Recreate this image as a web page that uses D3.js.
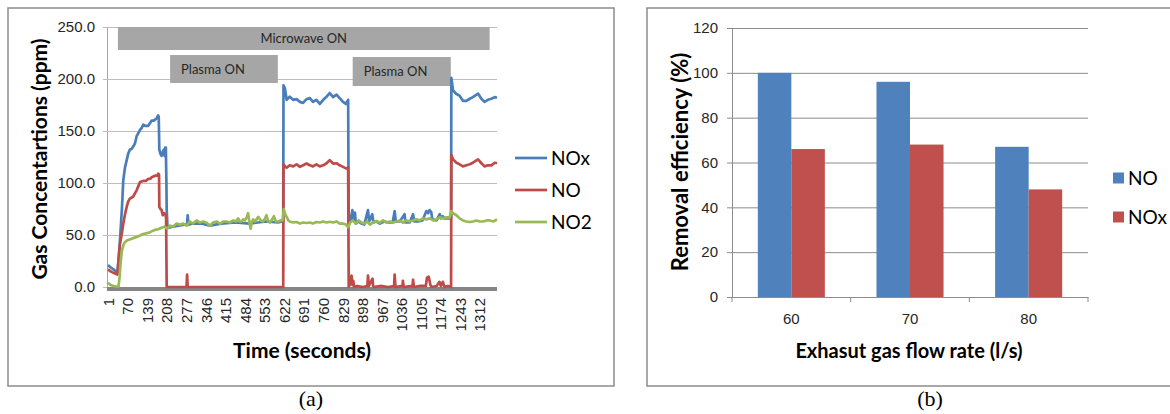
<!DOCTYPE html>
<html>
<head>
<meta charset="utf-8">
<script src="https://cdn.jsdelivr.net/npm/d3@7"></script>
<style>
body { margin: 0; background: #fff; }
svg { display: block; font-family: Lato, "Open Sans", sans-serif; }
</style>
</head>
<body>
<svg id="chart" width="1170" height="414"></svg>
<script>
// ---- panel (a): gas concentrations over time ----
const timeTicks = [1, 70, 139, 208, 277, 346, 415, 484, 553, 622, 691, 760, 829, 898, 967, 1036, 1105, 1174, 1243, 1312];
const concTicks = [0, 50, 100, 150, 200, 250];

const noxTime = [1,10,20,34,38,43,50,55,61,67, 72,78,85,90,96,102,108,114,120,125,
  133,143,150,155,162,167,172,178,180,182, 186,190,194,198,201,203,205,207,208,211,
  215,230,250,270,280,282,285,300,330,360, 400,450,500,560,600,617,619,620,625,631,
  642,654,666,678,689,701,713,724,736,748, 760,772,783,795,807,818,830,840,848,850,
  855,863,866,872,875,885,895,905,918,922, 933,937,948,960,975,990,1005,1012,1016,1030,
  1047,1050,1065,1077,1081,1095,1110,1124,1130,1135, 1141,1145,1160,1171,1175,1182,1188,1200,1208,1211,
  1212,1218,1230,1241,1253,1265,1277,1288,1306,1318, 1329,1341,1353,1365,1373];
const noxPpm = [21,19,17,13.6,25,44,75,103,115,122, 128,132,133,135,138,145,148,151,153,156,
  155,155,158,160,160,161,162,165,163,132, 128,126,130,132,126,134,134,100,74,57,
  57,58,59,60,60,69,60,61,61,59, 61,62,61,63,62,63,63,194,191,180,
  183,180,180.6,178,177,180.6,181.6,178,180,176, 180,183,186.5,182.6,185,181.6,178,176,180,62,
  62,74,64,71.6,61,63,61,60,74,63, 70,62,63,61,63,62,62,73,63,63,
  70,62,62,70,63,63,64,73,71,74, 72,65,64,70,66,68,66,66,66,67,
  201,189,185.6,184,179,179,181,182.6,186,181, 178,180,181,182.6,182];

const noTime = [1,10,20,34,38,43,50,55,61,67, 72,78,90,96,102,108,114,125,135,143,
  150,155,167,175,178,181,182,186,190,194, 198,204,206,208,278,280,282,619,620,625,
  631,642,654,666,678,689,701,713,724,736, 748,760,772,783,795,807,818,830,840,848,
  850,855,860,863,866,869,880,900,916,918, 921,934,936,939,960,990,1010,1012,1015,1040,
  1041,1044,1075,1077,1080,1100,1122,1126,1132,1138, 1142,1160,1170,1175,1182,1188,1200,1211,1212,1218,
  1230,1241,1253,1265,1277,1288,1306,1318,1329,1341, 1353,1365,1373];
const noPpm = [17,15,13.6,12,25,41,52,61,70,77, 82,85,87,90,93,97,101,102,102,104,
  104,105.5,107,107,109,108,77,75,74,69, 71,70,65,0,0,12,0,0,118,116,
  114.6,117,116,118,115.5,117,118.7,117,116,118, 116,117,119,122,118.7,119,117,115.5,114,115,
  0,3,11,2,6,0,1,0,1,11, 1,8,1,0,1,0,1,12,0,1,
  6,0,1,7,0,1,1,9,10,2, 0,1,5,1,5,0,1,0,127,122.7,
  119.5,118,116,117,118,119.5,122.7,119,116,117, 117,119.5,119];

const no2Time = [1,10,20,30,38,42,46,50,55,60, 70,80,90,102,114,125,135,143,155,167,
  178,190,200,210,219,230,243,255,266,278, 290,300,314,325,337,349,360,372,384,396,
  408,419,431,443,452,460,466,472,478,484, 490,495,500,504,508,513,520,531,540,548,
  555,560,566,572,580,586,593,601,610,617, 621,626,631,637,642,654,666,678,689,701,
  713,724,736,748,760,772,783,795,807,818, 830,840,848,855,865,875,885,895,905,915,
  925,935,948,960,971,983,995,1006,1018,1030, 1041,1053,1065,1077,1089,1100,1112,1124,1136,1148,
  1160,1171,1183,1195,1206,1212,1218,1230,1241,1253, 1265,1277,1288,1300,1312,1324,1336,1348,1360,1373];
const no2Ppm = [4,2,1,0.5,0.5,10,25,35,40,43, 45,46,47,48,49.5,51,51.5,52,53.5,55,
  55.5,57,58,56,59,58,61,60,61,59, 63,61,64,62,63,61.7,59,62,63,61,
  63,63,62,64,63,66,63,63,65,64, 67,71,62,56,62,65,63,67.5,64,63,
  66,69,63,62,65,68,63,63,64,64, 75,70,67.5,64,63,62,62.5,61,62,61.5,
  62,61,62.5,62,63,62,62.7,62,63,61, 61,60,57.5,62,64,61,64,62,61,63,
  60,62,63.5,62,64,62,63,62,63,64, 62,64,63,64,65,64,66,65,66,64,
  65,67,66,67,67,73,71,69,66,64, 63,62.5,63,64,63,63,64,64,63,65];

const periodLabels = ["Microwave ON", "Plasma ON", "Plasma ON"];
const periodStart = [36, 220, 864];
const periodEnd = [1347, 600, 1210];

// ---- panel (b): removal efficiency ----
const flowRates = ["60", "70", "80"];
const gasNames = ["NO", "NOx"];
const removalNO = [100, 96, 67];
const removalNOx = [66, 68, 48];
const effTicks = [0, 20, 40, 60, 80, 100, 120];

const svg = d3.select("#chart");

function drawTimeChart()
{
    var x = d3.scaleLinear().domain([1, 1373]).range([108, 497]);
    var y = d3.scaleLinear().domain([0, 250]).range([287, 27]);

    svg.append("rect").attr("x", 8).attr("y", 8).attr("width", 606).attr("height", 378)
        .attr("fill", "none").attr("stroke", "#8c8c8c").attr("stroke-width", 1.5);

    // grid + y labels
    var gy = svg.append("g").attr("transform", "translate(107,0)")
        .call(d3.axisLeft(y).tickValues(concTicks).tickFormat(d3.format(".1f"))
            .tickSize(-390).tickPadding(12));
    gy.select(".domain").attr("stroke", "#a6a6a6");
    gy.selectAll(".tick line").attr("x1", -4).attr("stroke", "#bdbdbd");
    gy.selectAll("text").attr("font-size", 15).attr("fill", "#262626");

    // x axis: thick grey base + rotated labels
    var gx = svg.append("g").attr("transform", "translate(0,289)")
        .call(d3.axisBottom(x).tickValues(timeTicks).tickFormat(d3.format("d")).tickSize(0).tickSizeOuter(0));
    gx.select(".domain").attr("d", "M107,0H497").attr("stroke", "#858585").attr("stroke-width", 4);
    gx.selectAll("text").attr("transform", "rotate(-90)").attr("x", -9).attr("y", 0)
        .attr("dy", "0.35em").attr("text-anchor", "end").attr("font-size", 15).attr("fill", "#262626");

    // ON periods
    var boxRows = [[27, 50], [55, 83], [57, 86]];
    periodLabels.forEach(function(label, i) {
        var x0 = x(periodStart[i]), x1 = x(periodEnd[i]);
        svg.append("rect").attr("x", x0).attr("y", boxRows[i][0]).attr("width", x1 - x0)
            .attr("height", boxRows[i][1] - boxRows[i][0]).attr("fill", "#a6a6a6");
        svg.append("text").attr("x", i == 0 ? (x0 + x1) / 2 : x0 + 11)
            .attr("y", (boxRows[i][0] + boxRows[i][1]) / 2).attr("dy", "0.35em")
            .attr("text-anchor", i == 0 ? "middle" : "start")
            .attr("font-size", 13).attr("fill", "#262626").text(label);
    });

    var line = d3.line().x(d => x(d[0])).y(d => y(d[1]));
    var series = [
        {name: "NOx", color: "#4a7ebb", data: d3.zip(noxTime, noxPpm)},
        {name: "NO", color: "#be4b48", data: d3.zip(noTime, noPpm)},
        {name: "NO2", color: "#98b954", data: d3.zip(no2Time, no2Ppm)}
    ];
    series.forEach(function(s, i) {
        svg.append("path").datum(s.data).attr("d", line).attr("fill", "none")
            .attr("stroke", s.color).attr("stroke-width", 2.7).attr("stroke-linejoin", "round");
        var ly = 158 + i * 32;
        svg.append("line").attr("x1", 515).attr("x2", 547).attr("y1", ly).attr("y2", ly)
            .attr("stroke", s.color).attr("stroke-width", 2.7);
        svg.append("text").attr("x", 551).attr("y", ly).attr("dy", "0.35em")
            .attr("font-size", 19).attr("fill", "#000").text(s.name);
    });

    svg.append("text").attr("transform", "translate(47,159) rotate(-90)").attr("text-anchor", "middle")
        .attr("font-size", 21).attr("font-weight", "bold").text("Gas Concentartions (ppm)");
    svg.append("text").attr("x", 302).attr("y", 358).attr("text-anchor", "middle")
        .attr("font-size", 21).attr("font-weight", "bold").text("Time (seconds)");
    svg.append("text").attr("x", 311).attr("y", 406).attr("text-anchor", "middle")
        .attr("font-family", "'Liberation Serif', serif").attr("font-size", 22).text("(a)");
}

function drawBarChart()
{
    var x0 = d3.scaleBand().domain(flowRates).range([732, 1088]);
    var x1 = d3.scaleBand().domain(gasNames).range([0, x0.bandwidth()]).paddingOuter(0.77);
    var y = d3.scaleLinear().domain([0, 120]).range([297, 28]);
    var color = d3.scaleOrdinal().domain(gasNames).range(["#4f81bd", "#c0504d"]);

    svg.append("rect").attr("x", 647).attr("y", 8).attr("width", 540).attr("height", 378)
        .attr("fill", "none").attr("stroke", "#8c8c8c").attr("stroke-width", 1.5);

    var gy = svg.append("g").attr("transform", "translate(732,0)")
        .call(d3.axisLeft(y).tickValues(effTicks).tickSize(-356).tickPadding(14));
    gy.select(".domain").attr("stroke", "#8c8c8c");
    gy.selectAll(".tick line").attr("x1", -5).attr("stroke", "#8c8c8c");
    gy.selectAll("text").attr("font-size", 15).attr("fill", "#262626");

    var rows = flowRates.map((f, i) => ({rate: f, NO: removalNO[i], NOx: removalNOx[i]}));
    svg.append("g").selectAll("g").data(rows).join("g")
        .attr("transform", d => "translate(" + x0(d.rate) + ",0)")
        .selectAll("rect").data(d => gasNames.map(k => ({key: k, value: d[k]}))).join("rect")
        .attr("x", d => x1(d.key)).attr("width", x1.bandwidth())
        .attr("y", d => y(d.value)).attr("height", d => y(0) - y(d.value))
        .attr("fill", d => color(d.key));

    var gx = svg.append("g").attr("transform", "translate(0,297)")
        .call(d3.axisBottom(x0).tickSize(0).tickPadding(16));
    gx.select(".domain").attr("stroke", "#8c8c8c");
    gx.selectAll("text").attr("font-size", 15).attr("fill", "#262626");
    var bounds = flowRates.map(f => x0(f)).concat([x0.range()[1]]);
    gx.selectAll(".bound").data(bounds).join("line").attr("class", "bound")
        .attr("x1", d => d).attr("x2", d => d).attr("y1", 0).attr("y2", 5).attr("stroke", "#8c8c8c");

    gasNames.forEach(function(g, i) {
        var ly = 178 + i * 39;
        svg.append("rect").attr("x", 1113).attr("y", ly - 5.5).attr("width", 11).attr("height", 11)
            .attr("fill", color(g));
        svg.append("text").attr("x", 1128).attr("y", ly).attr("dy", "0.35em")
            .attr("font-size", 19).attr("fill", "#000").text(g);
    });

    svg.append("text").attr("transform", "translate(688,162) rotate(-90)").attr("text-anchor", "middle")
        .attr("font-size", 22).attr("font-weight", "bold").text("Removal efficiency (%)");
    svg.append("text").attr("x", 909).attr("y", 358).attr("text-anchor", "middle")
        .attr("font-size", 20).attr("font-weight", "bold").text("Exhasut gas flow rate (l/s)");
    svg.append("text").attr("x", 930).attr("y", 406).attr("text-anchor", "middle")
        .attr("font-family", "'Liberation Serif', serif").attr("font-size", 22).text("(b)");
}

drawTimeChart();
drawBarChart();
</script>
</body>
</html>
